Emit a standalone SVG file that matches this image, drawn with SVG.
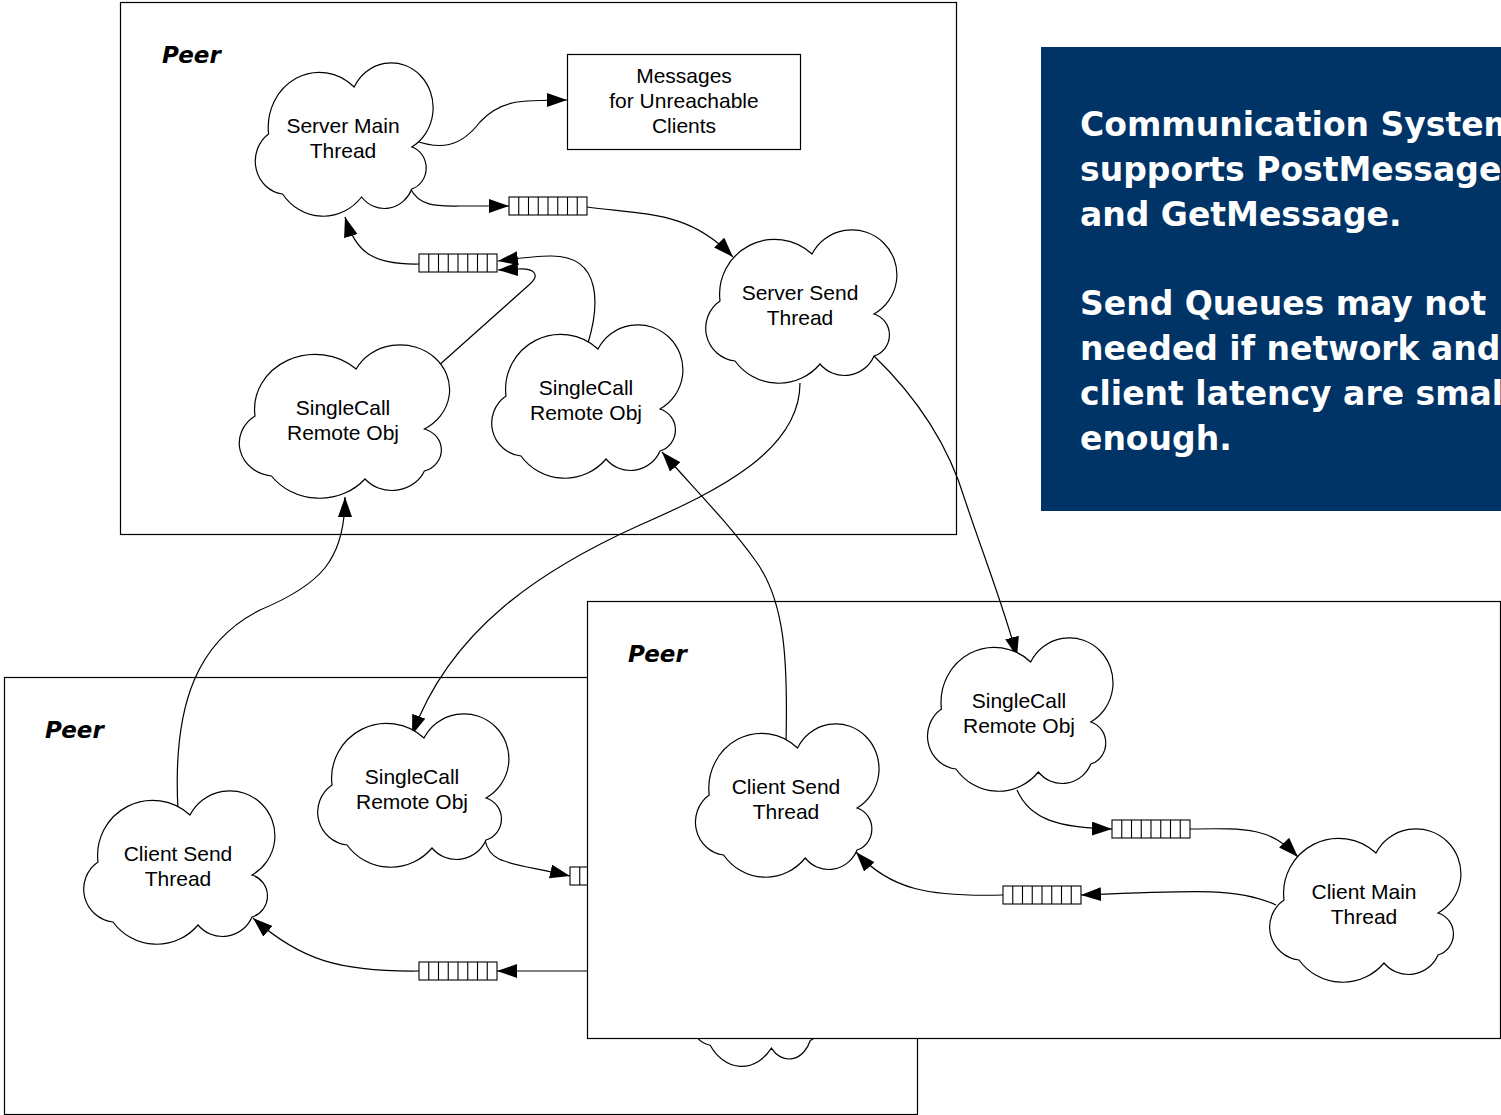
<svg xmlns="http://www.w3.org/2000/svg" xmlns:xlink="http://www.w3.org/1999/xlink" width="1501" height="1115" viewBox="0 0 1501 1115">
<style>
.box{fill:#fff;stroke:#000;stroke-width:1.2}
.peer{font-family:"DejaVu Sans",Verdana,sans-serif;font-weight:bold;font-style:italic;font-size:23px;fill:#000}
.lbl{font-family:"Liberation Sans",Arial,sans-serif;font-size:21px;fill:#000;text-anchor:middle}
.cloud{fill:#fff;stroke:#000;stroke-width:1.2;vector-effect:non-scaling-stroke}
.q{fill:#fff;stroke:#000;stroke-width:1.1}
.conn{fill:none;stroke:#000;stroke-width:1.2}
.note{font-family:"DejaVu Sans",Verdana,sans-serif;font-weight:bold;font-size:33px;fill:#fff}
</style>
<defs>
<path id="cloud" class="cloud" d="M -80,-5 A 55 55 0 0 1 12,-52 A 45 45 0 1 1 74,8 A 22 22 0 0 1 74,50 A 32 32 0 0 1 20,58 A 54 54 0 0 1 -65,55 A 33 33 0 0 1 -80,-5 Z"/>
<g id="queue">
<rect class="q" x="0" y="0" width="78" height="18"/>
<path class="q" d="M9.75,0V18M19.5,0V18M29.25,0V18M39,0V18M48.75,0V18M58.5,0V18M68.25,0V18"/>
</g>
<marker id="arr" markerUnits="userSpaceOnUse" markerWidth="21" markerHeight="15" refX="20" refY="7" orient="auto">
<path d="M0,0 L20,7 L0,14 Z" fill="#000"/>
</marker>
</defs>

<g id="backgrounds">
<rect id="peer-top" class="box" x="120.5" y="2.5" width="836" height="532"/>
<rect id="note-box" x="1041" y="47" width="460" height="464" fill="#003366"/>
<rect id="peer-left" class="box" x="4.5" y="677.5" width="913" height="437"/>
</g>

<g id="hidden-cloud">
<use xlink:href="#cloud" transform="translate(757,993) scale(0.72,0.95)"/>
</g>
<g id="queue-q3">
<use xlink:href="#queue" transform="translate(570,867)"/>
</g>

<g id="peer-right-box">
<rect class="box" x="587.5" y="601.5" width="913" height="437"/>
</g>

<g id="peer-labels">
<text class="peer" x="162" y="63">Peer</text>
<text class="peer" x="45" y="738">Peer</text>
<text class="peer" x="628" y="662">Peer</text>
</g>

<g id="note">
<text class="note" x="1080" y="136">Communication System</text>
<text class="note" x="1080" y="181">supports PostMessage</text>
<text class="note" x="1080" y="226">and GetMessage.</text>
<text class="note" x="1080" y="315">Send Queues may not</text>
<text class="note" x="1080" y="360">needed if network and</text>
<text class="note" x="1080" y="405">client latency are small</text>
<text class="note" x="1080" y="450">enough.</text>
</g>

<g id="connectors">
<path class="conn" marker-end="url(#arr)" d="M413,140 C440,150 460,148 480,122 C500,100 520,100 567,100"/>
<path class="conn" marker-end="url(#arr)" d="M410,188 C420,208 440,206 460,206 L509,206"/>
<path class="conn" marker-end="url(#arr)" d="M587,207 C650,215 690,212 733,257"/>
<path class="conn" marker-end="url(#arr)" d="M800,383 C800,450 720,490 640,525 C540,570 450,630 412,735"/>
<path class="conn" marker-end="url(#arr)" d="M873,355 C920,400 950,450 965,500 C985,560 1005,610 1017,657"/>
<path class="conn" marker-end="url(#arr)" d="M437,367 L530,284 C540,275 535,268 518,269 L498,270"/>
<path class="conn" marker-end="url(#arr)" d="M588,343 C598,310 605,255 550,256 C535,256 520,258 498,261"/>
<path class="conn" marker-end="url(#arr)" d="M419,264 C370,265 355,250 345,217"/>
<path class="conn" marker-end="url(#arr)" d="M587,971 L497,971"/>
<path class="conn" marker-end="url(#arr)" d="M419,971 C340,972 300,960 253,918"/>
<path class="conn" marker-end="url(#arr)" d="M178,810 C172,700 200,640 260,610 C320,585 345,560 345,497"/>
<path class="conn" marker-end="url(#arr)" d="M485,840 C490,865 510,862 570,876"/>
<path class="conn" marker-end="url(#arr)" d="M786,743 C788,660 785,600 755,560 C730,525 700,495 662,452"/>
<path class="conn" marker-end="url(#arr)" d="M1017,790 C1030,820 1060,828 1112,829"/>
<path class="conn" marker-end="url(#arr)" d="M1190,829 C1250,828 1270,828 1298,857"/>
<path class="conn" marker-end="url(#arr)" d="M1276,905 C1240,888 1200,890 1081,895"/>
<path class="conn" marker-end="url(#arr)" d="M1003,895 C930,897 890,890 856,852"/>
</g>

<g id="messages-box">
<rect class="box" x="567.5" y="54.5" width="233" height="95"/>
<text class="lbl" x="684" y="83">Messages</text>
<text class="lbl" x="684" y="108">for Unreachable</text>
<text class="lbl" x="684" y="133">Clients</text>
</g>

<g id="server-main">
<use xlink:href="#cloud" transform="translate(343,139) scale(0.93,1)"/>
<text class="lbl" x="343" y="133">Server Main</text>
<text class="lbl" x="343" y="158">Thread</text>
</g>
<g id="server-send">
<use xlink:href="#cloud" transform="translate(800,306)"/>
<text class="lbl" x="800" y="300">Server Send</text>
<text class="lbl" x="800" y="325">Thread</text>
</g>
<g id="singlecall-top-left">
<use xlink:href="#cloud" transform="translate(343,421) scale(1.1,1)"/>
<text class="lbl" x="343" y="415">SingleCall</text>
<text class="lbl" x="343" y="440">Remote Obj</text>
</g>
<g id="singlecall-top-mid">
<use xlink:href="#cloud" transform="translate(586,401)"/>
<text class="lbl" x="586" y="395">SingleCall</text>
<text class="lbl" x="586" y="420">Remote Obj</text>
</g>
<g id="queue-q1"><use xlink:href="#queue" transform="translate(509,197)"/></g>
<g id="queue-q2"><use xlink:href="#queue" transform="translate(419,254)"/></g>

<g id="client-send-left">
<use xlink:href="#cloud" transform="translate(178,867)"/>
<text class="lbl" x="178" y="861">Client Send</text>
<text class="lbl" x="178" y="886">Thread</text>
</g>
<g id="singlecall-left">
<use xlink:href="#cloud" transform="translate(412,790)"/>
<text class="lbl" x="412" y="784">SingleCall</text>
<text class="lbl" x="412" y="809">Remote Obj</text>
</g>
<g id="queue-q4"><use xlink:href="#queue" transform="translate(419,962)"/></g>

<g id="client-send-right">
<use xlink:href="#cloud" transform="translate(786,800) scale(0.96,1)"/>
<text class="lbl" x="786" y="794">Client Send</text>
<text class="lbl" x="786" y="819">Thread</text>
</g>
<g id="singlecall-right">
<use xlink:href="#cloud" transform="translate(1019,714) scale(0.97,1)"/>
<text class="lbl" x="1019" y="708">SingleCall</text>
<text class="lbl" x="1019" y="733">Remote Obj</text>
</g>
<g id="client-main">
<use xlink:href="#cloud" transform="translate(1364,905)"/>
<text class="lbl" x="1364" y="899">Client Main</text>
<text class="lbl" x="1364" y="924">Thread</text>
</g>
<g id="queue-q5"><use xlink:href="#queue" transform="translate(1112,820)"/></g>
<g id="queue-q6"><use xlink:href="#queue" transform="translate(1003,886)"/></g>
</svg>
